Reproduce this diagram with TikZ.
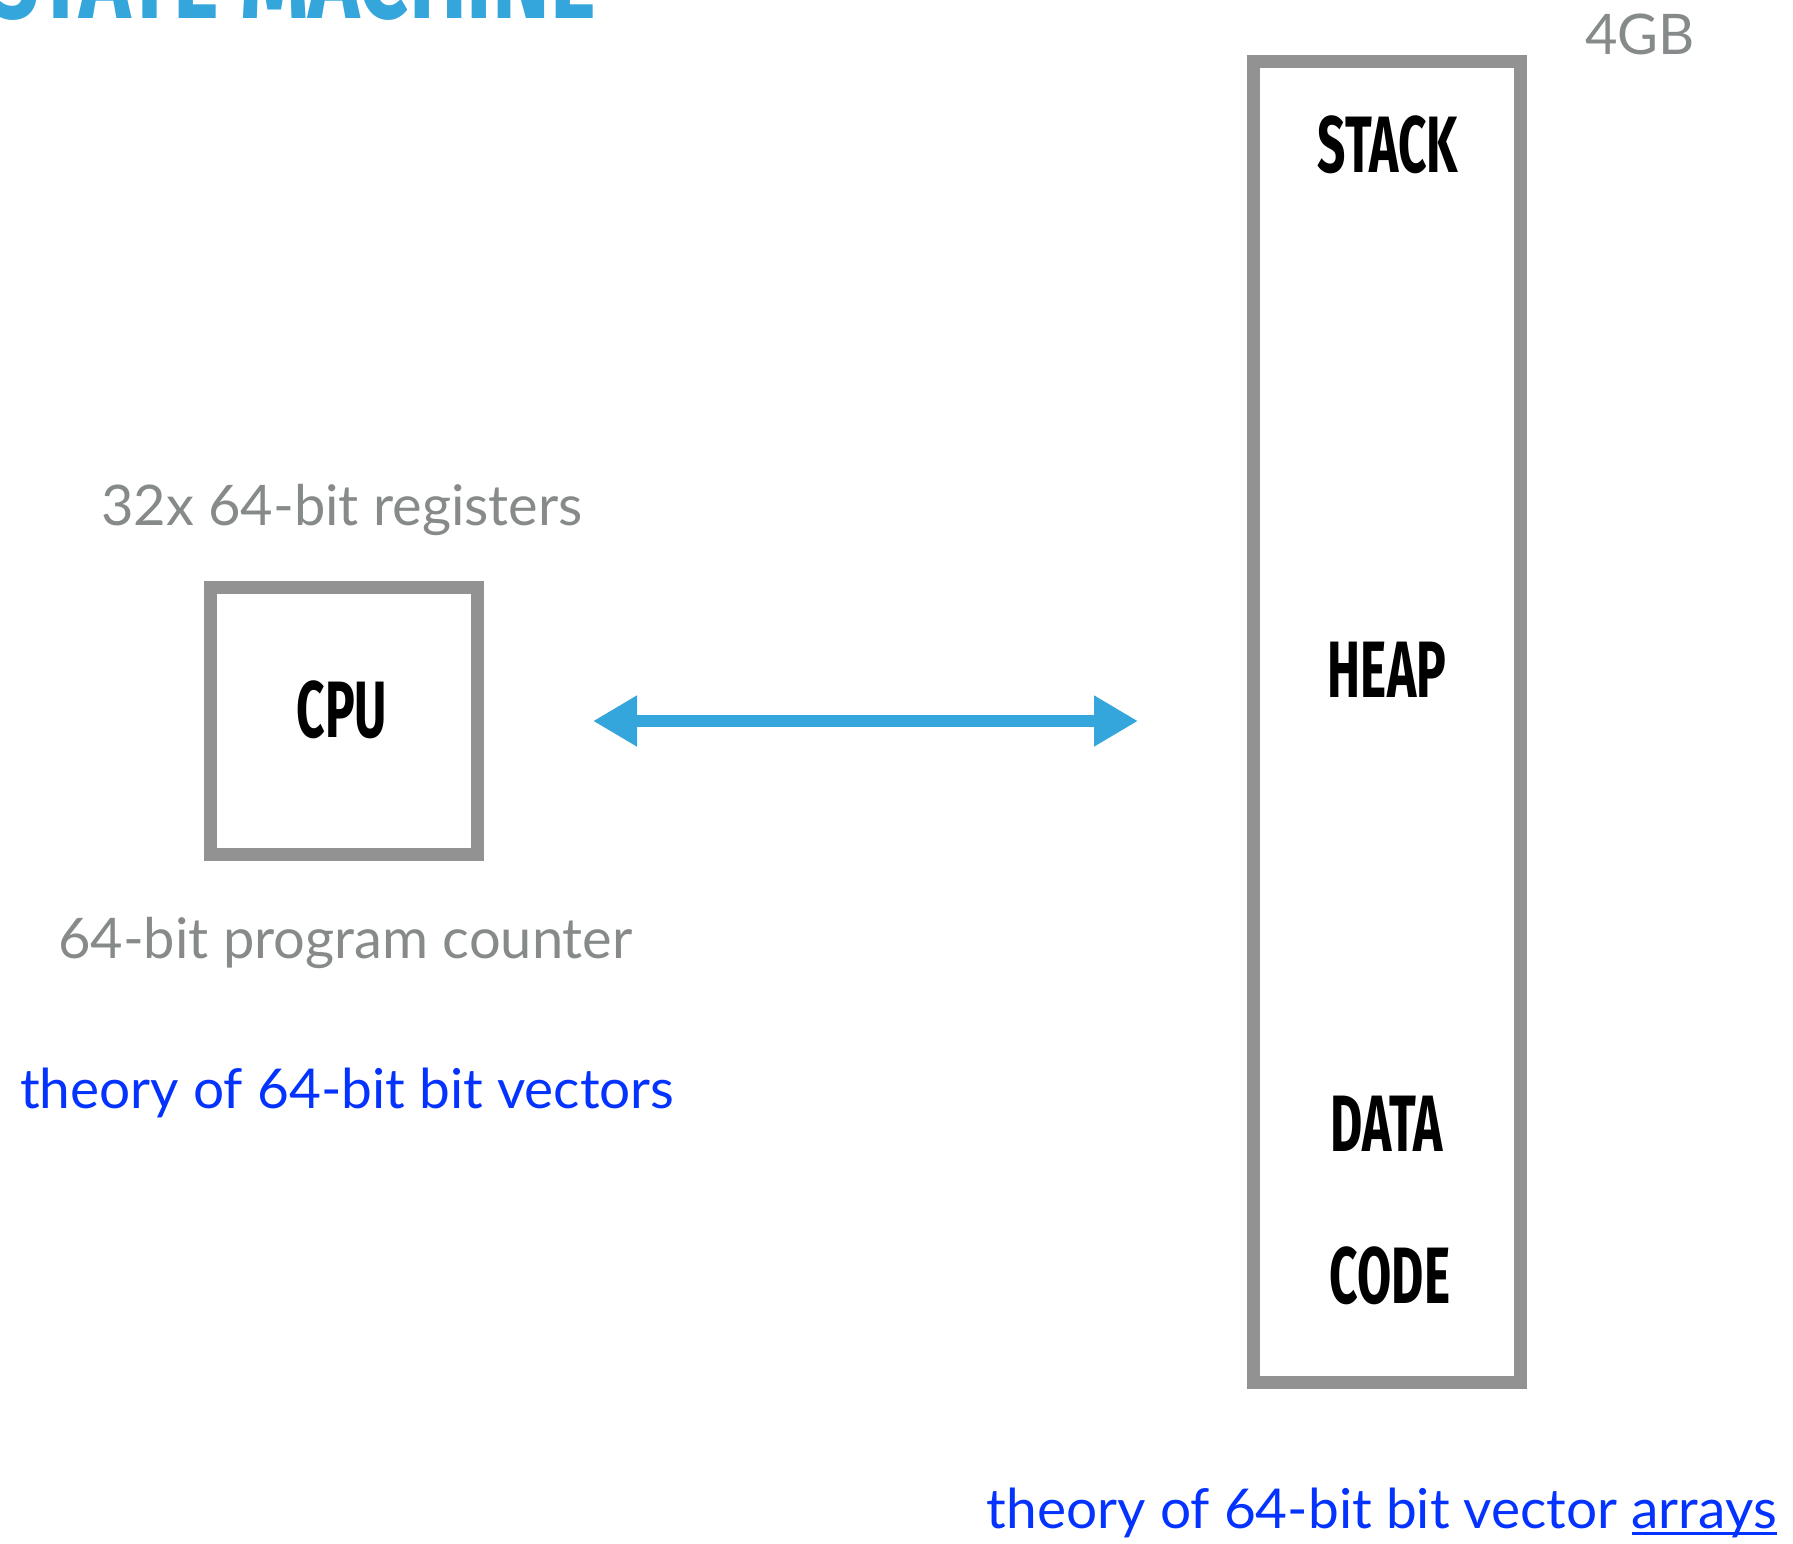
\documentclass[tikz,border=0pt]{standalone}
\usepackage{fontspec}
\setmainfont{Lato}
\newfontfamily\dinfont[FakeStretch=0.62]{Fira Sans}
\newfontfamily\titlefont[FakeStretch=0.75]{Fira Sans}
\usetikzlibrary{arrows.meta}

\definecolor{boxgray}{HTML}{929292}
\definecolor{txtgray}{HTML}{878A8A}
\definecolor{linkblue}{HTML}{0433FF}
\definecolor{busblue}{HTML}{35A6DC}

\newcommand{\linkul}[1]{\setbox0\hbox{#1}\rlap{\rule[-0.12em]{\wd0}{0.055em}}\box0}

\tikzset{
	unitbox/.style={draw=boxgray, line width=13pt, inner sep=0pt, outer sep=6.5pt},
	seglbl/.style={font=\dinfont\bfseries\fontsize{80}{80}\selectfont, inner sep=0pt},
	graytxt/.style={text=txtgray, font=\fontsize{56}{60}\selectfont, inner sep=0pt},
	bluetxt/.style={text=linkblue, font=\fontsize{55}{60}\selectfont, inner sep=0pt},
	bus/.style={draw=busblue, line width=12pt, {Triangle[length=44pt,width=48pt]}-{Triangle[length=44pt,width=48pt]}}
}

\begin{document}
\begin{tikzpicture}[x=1pt, y=-1pt]
	\useasboundingbox (0,0) rectangle (1793,1544);
	\clip (0,0) rectangle (1793,1544);
	% title, cut off by the top edge
	\node[inner sep=0pt, text=busblue, font=\titlefont\bfseries\fontsize{116}{116}\selectfont, anchor=base east] (title) at (596,19) {STATE MACHINE};
	% processor
	\node[unitbox, minimum width=267pt, minimum height=267pt] (cpu) at (344,721) {};
	\node[seglbl, anchor=base] (cpulbl) at (342,737) {CPU};
	\node[graytxt, anchor=base] (regs) at (342,525) {32x 64-bit registers};
	\node[graytxt, anchor=base west] (pc) at (58,958) {64-bit program counter};
	\node[bluetxt, anchor=base west] (bvtheory) at (20,1108) {theory of 64-bit bit vectors};
	% memory
	\node[unitbox, minimum width=267pt, minimum height=1321pt] (mem) at (1387,722) {};
	\foreach \nm/\txt/\x/\y in {stack/STACK/1388/172, heap/HEAP/1387/697, data/DATA/1387/1151, code/CODE/1390/1303}
		\node[seglbl, anchor=base] (\nm) at (\x,\y) {\txt};
	\node[graytxt, anchor=base west] (size) at (1585,55) {4GB};
	\node[bluetxt, anchor=base east] (arrtheory) at (1777,1528) {theory of 64-bit bit vector \linkul{arrays}};
	% bus between them
	\coordinate (busL) at ([xshift=109pt]cpu.east);
	\coordinate (busR) at ([xshift=-109pt]mem.west |- busL);
	\draw[bus] (busL) -- (busR);
\end{tikzpicture}
\end{document}
